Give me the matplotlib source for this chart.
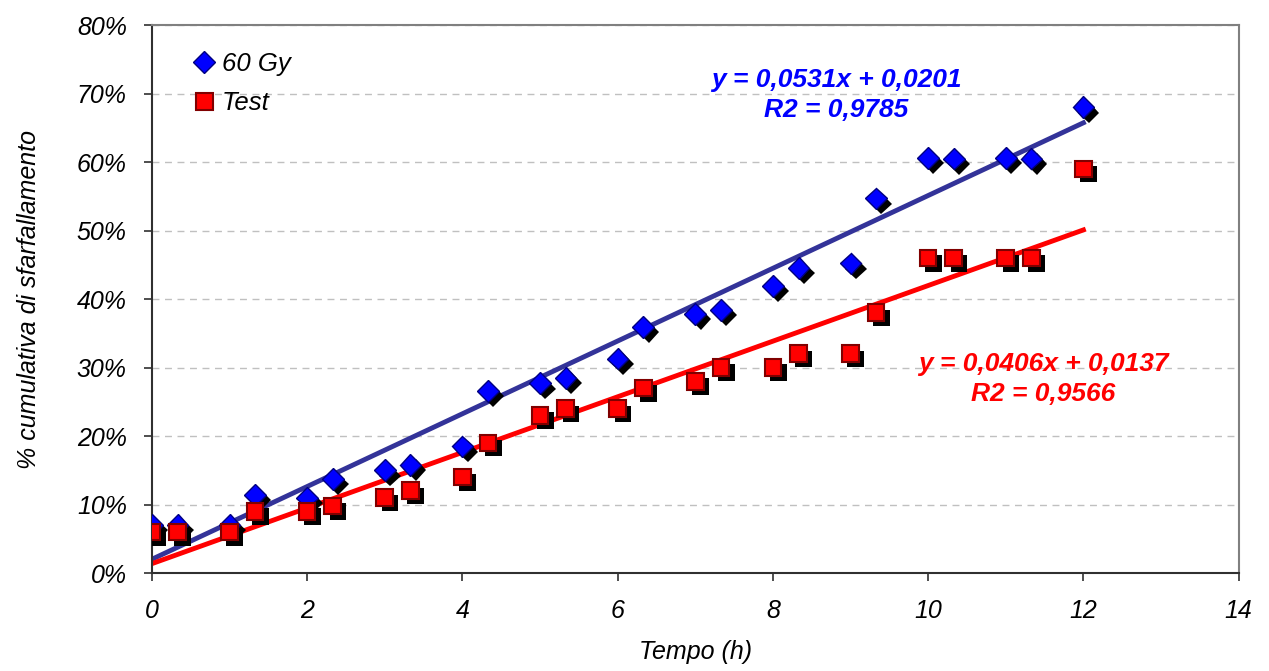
import matplotlib.pyplot as plt
import matplotlib.patheffects as pe
import numpy as np
from matplotlib.ticker import FuncFormatter

plt.rcParams['font.family'] = ['Liberation Sans', 'DejaVu Sans']

# tempo (h)
tempo = [0, 0.33, 1, 1.33, 2, 2.33, 3, 3.33, 4, 4.33, 5, 5.33, 6, 6.33,
         7, 7.33, 8, 8.33, 9, 9.33, 10, 10.33, 11, 11.33, 12]
# % cumulativa, 60 Gy
gy60 = [7, 7, 7, 11.4, 11, 13.7, 15, 15.8, 18.5, 26.6, 27.7, 28.5, 31.3, 35.9,
        37.8, 38.4, 41.9, 44.5, 45.2, 54.7, 60.6, 60.5, 60.6, 60.5, 68]
# % cumulativa, Test
test = [6, 6, 6, 9, 9, 9.8, 11, 12, 14, 19, 23, 24, 24, 27,
        28, 30, 30, 32, 32, 38, 46, 46, 46, 46, 59]

# linee di tendenza (pendenza, intercetta, R2)
fit_gy60 = (0.0531, 0.0201, 0.9785)
fit_test = (0.0406, 0.0137, 0.9566)

def fmt(v):
    return ('%.4f' % v).replace('.', ',')

fig = plt.figure(figsize=(12.69, 6.71), dpi=100)
ax = fig.add_axes([0.1197, 0.146, 0.8564, 0.8167])

shadow = [pe.SimplePatchShadow(offset=(3.8, -3.8), shadow_rgbFace='black', alpha=1.0), pe.Normal()]

xfit = np.array([min(tempo), max(tempo)])
ax.plot(xfit, (fit_gy60[0] * xfit + fit_gy60[1]) * 100, color='#333399', lw=3.5, zorder=2)
ax.plot(xfit, (fit_test[0] * xfit + fit_test[1]) * 100, color='#FF0000', lw=3.5, zorder=2)

ax.plot(tempo, gy60, ls='none', marker='D', ms=11, mfc='#0000FF', mec='#000080', mew=1,
        path_effects=shadow, zorder=3, label='60 Gy')
ax.plot(tempo, test, ls='none', marker='s', ms=12, mfc='#FF0000', mec='#800000', mew=1.5,
        path_effects=shadow, zorder=4, label='Test')

ax.set_xlim(0, 14)
ax.set_ylim(0, 80)
ax.set_xticks(range(0, 15, 2))
ax.set_yticks(range(0, 81, 10))
ax.yaxis.set_major_formatter(FuncFormatter(lambda v, p: '%d%%' % v))
ax.grid(axis='y', color='#C0C0C0', ls=(0, (5, 4)), lw=1)
ax.set_axisbelow(True)

for s in ['top', 'right']:
    ax.spines[s].set_color('#808080')
    ax.spines[s].set_linewidth(1.5)
for s in ['left', 'bottom']:
    ax.spines[s].set_color('#303030')
    ax.spines[s].set_linewidth(1.5)
ax.tick_params(axis='both', direction='out', length=6, width=1.2, color='#303030', labelsize=18)
ax.tick_params(axis='y', pad=12)
ax.tick_params(axis='x', pad=13)
for lab in ax.get_xticklabels() + ax.get_yticklabels():
    lab.set_style('italic')

ax.set_xlabel('Tempo (h)', fontsize=18, style='italic', labelpad=12)
ax.set_ylabel('% cumulativa di sfarfallamento', fontsize=18, style='italic', labelpad=26)

ax.text(8.82, 69.8, 'y = %sx + %s\nR2 = %s' % (fmt(fit_gy60[0]), fmt(fit_gy60[1]), fmt(fit_gy60[2])),
        ha='center', va='center', color='#0000FF', fontsize=19, weight='bold', style='italic',
        linespacing=1.3)
ax.text(11.48, 28.3, 'y = %sx + %s\nR2 = %s' % (fmt(fit_test[0]), fmt(fit_test[1]), fmt(fit_test[2])),
        ha='center', va='center', color='#FF0000', fontsize=19, weight='bold', style='italic',
        linespacing=1.3)

leg = ax.legend(loc='upper left', bbox_to_anchor=(0.015, 0.993), frameon=False, fontsize=18.5,
                handletextpad=0.2, labelspacing=0.6, handlelength=1.0)
for t in leg.get_texts():
    t.set_style('italic')
for h in leg.legend_handles:
    h.set_path_effects([pe.Normal()])

fig.savefig('out.png', dpi=100)
